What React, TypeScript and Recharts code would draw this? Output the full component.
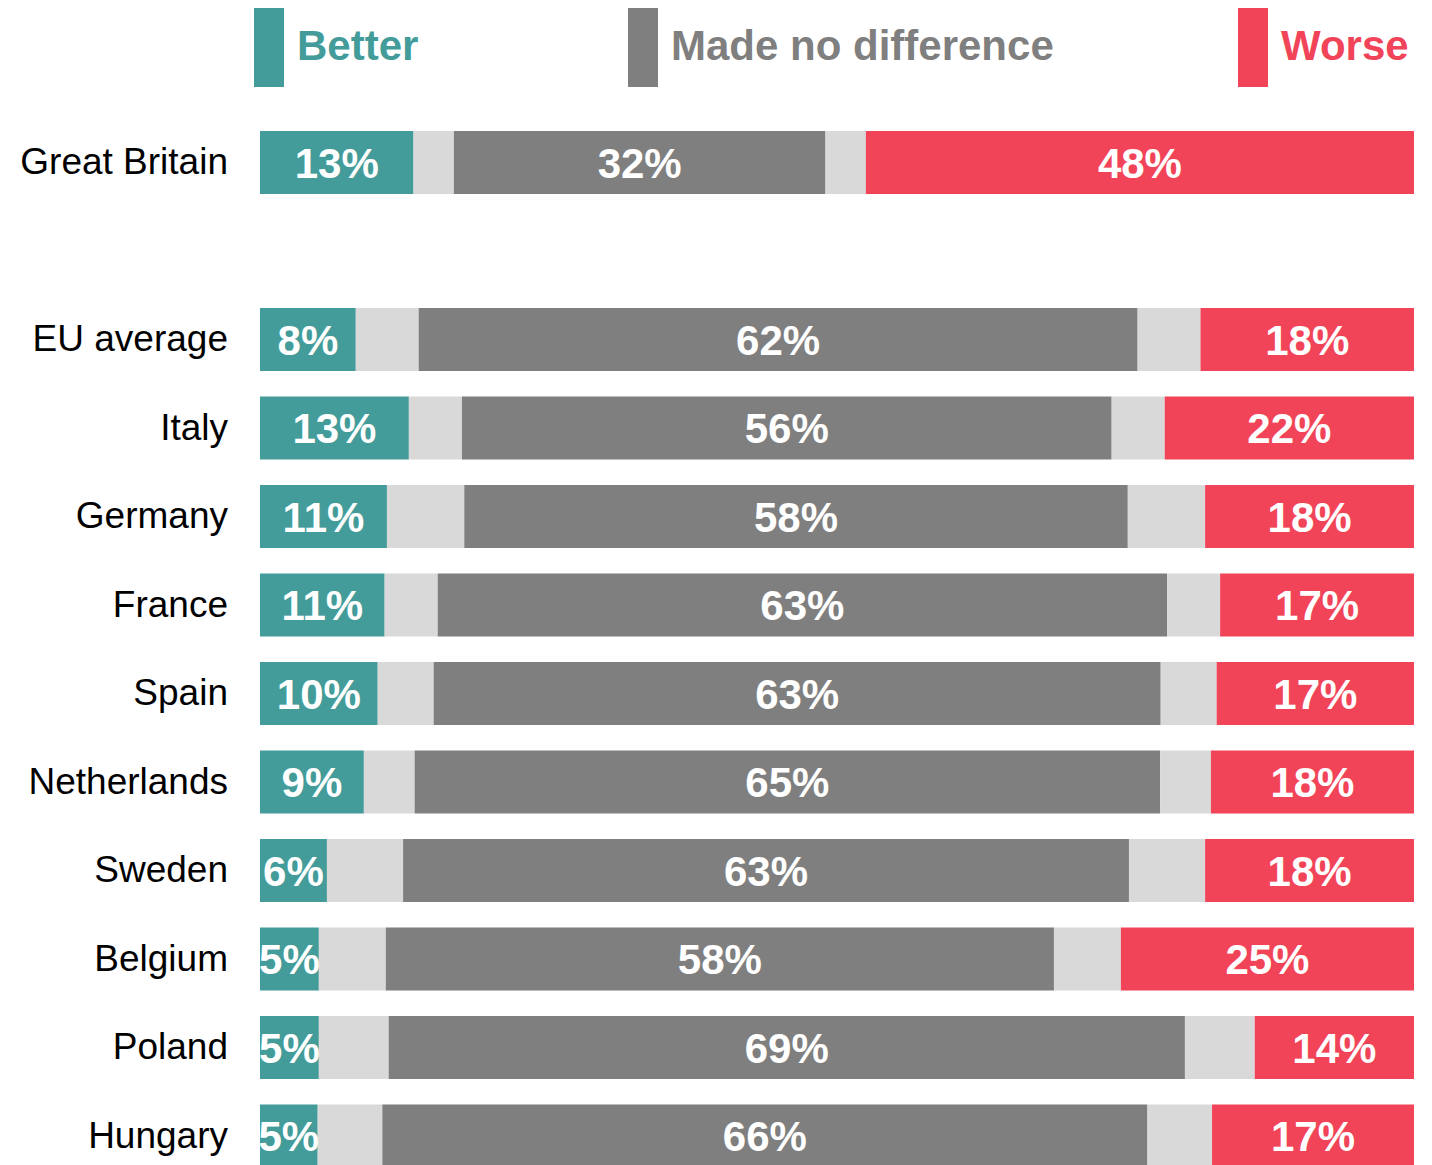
import React from 'react';
import { BarChart, Bar, XAxis, YAxis, LabelList } from 'recharts';

const categories = ['Great Britain', '', 'EU average', 'Italy', 'Germany', 'France', 'Spain', 'Netherlands', 'Sweden', 'Belgium', 'Poland', 'Hungary'];
const better = [13.3, null, 8.3, 12.9, 11.0, 10.8, 10.2, 9.0, 5.8, 5.1, 5.1, 5.0];
const dontKnowHalf = [3.5, null, 5.45, 4.6, 6.7, 4.6, 4.85, 4.4, 6.6, 5.8, 6.05, 5.6];
const same = [32.2, null, 62.3, 56.3, 57.5, 63.2, 63.0, 64.6, 62.9, 57.9, 69.0, 66.3];
const worse = [47.5, null, 18.5, 21.6, 18.1, 16.8, 17.1, 17.6, 18.1, 25.4, 13.8, 17.5];

const betterLabels = ['13%', '', '8%', '13%', '11%', '11%', '10%', '9%', '6%', '5%', '5%', '5%'];
const sameLabels = ['32%', '', '62%', '56%', '58%', '63%', '63%', '65%', '63%', '58%', '69%', '66%'];
const worseLabels = ['48%', '', '18%', '22%', '18%', '17%', '17%', '18%', '18%', '25%', '14%', '17%'];

const legendItems = [
  { name: 'Better', color: '#439C9A' },
  { name: 'Made no difference', color: '#7F7F7F' },
  { name: 'Worse', color: '#F24458' },
];

const COLORS = {
  better: '#439C9A',
  dk: '#D9D9D9',
  same: '#7F7F7F',
  worse: '#F24458',
};

const FONT = '"Liberation Sans", Arial, sans-serif';

const data = categories.map((c, i) => ({
  name: c,
  better: better[i],
  dk1: dontKnowHalf[i],
  same: same[i],
  dk2: dontKnowHalf[i],
  worse: worse[i],
  betterLabel: betterLabels[i],
  sameLabel: sameLabels[i],
  worseLabel: worseLabels[i],
}));

const renderLabel = (props: any) => {
  const { x, y, width, height, value } = props;
  if (!value) return null;
  return (
    <text
      x={Number(x) + Number(width) / 2}
      y={Number(y) + Number(height) / 2}
      dy="0.36em"
      textAnchor="middle"
      fill="#FFFFFF"
      fontFamily={FONT}
      fontWeight="bold"
      fontSize={42}
    >
      {value}
    </text>
  );
};

const CategoryTick = (props: any) => {
  const { y, payload } = props;
  return (
    <text
      x={228}
      y={y}
      dy="0.32em"
      textAnchor="end"
      fill="#000000"
      fontFamily={FONT}
      fontSize={37}
    >
      {payload.value}
    </text>
  );
};

const legendX = [254, 628, 1238];

export default function App() {
  return (
    <div style={{ position: 'absolute', left: 0, top: 0, width: 1432, height: 1180, background: '#fff' }}>
      <svg width={1432} height={100} style={{ position: 'absolute', left: 0, top: 0 }}>
        {legendItems.map((it, i) => (
          <g key={it.name}>
            <rect x={legendX[i]} y={8} width={30} height={79} fill={it.color} />
            <text
              x={legendX[i] + 43}
              y={60}
              fill={it.color}
              fontFamily={FONT}
              fontWeight="bold"
              fontSize={42}
            >
              {it.name}
            </text>
          </g>
        ))}
      </svg>
      <div style={{ position: 'absolute', left: 0, top: 0 }}>
        <BarChart
          width={1432}
          height={1180}
          data={data}
          layout="vertical"
          margin={{ top: 118, right: 18, bottom: 0, left: 0 }}
          barSize={63}
        >
          <XAxis type="number" domain={[0, 100]} hide allowDataOverflow />
          <YAxis
            type="category"
            dataKey="name"
            width={260}
            axisLine={false}
            tickLine={false}
            tick={<CategoryTick />}
            interval={0}
          />
          <Bar dataKey="better" stackId="a" fill={COLORS.better} isAnimationActive={false}>
            <LabelList dataKey="betterLabel" content={renderLabel} />
          </Bar>
          <Bar dataKey="dk1" stackId="a" fill={COLORS.dk} isAnimationActive={false} />
          <Bar dataKey="same" stackId="a" fill={COLORS.same} isAnimationActive={false}>
            <LabelList dataKey="sameLabel" content={renderLabel} />
          </Bar>
          <Bar dataKey="dk2" stackId="a" fill={COLORS.dk} isAnimationActive={false} />
          <Bar dataKey="worse" stackId="a" fill={COLORS.worse} isAnimationActive={false}>
            <LabelList dataKey="worseLabel" content={renderLabel} />
          </Bar>
        </BarChart>
      </div>
    </div>
  );
}
